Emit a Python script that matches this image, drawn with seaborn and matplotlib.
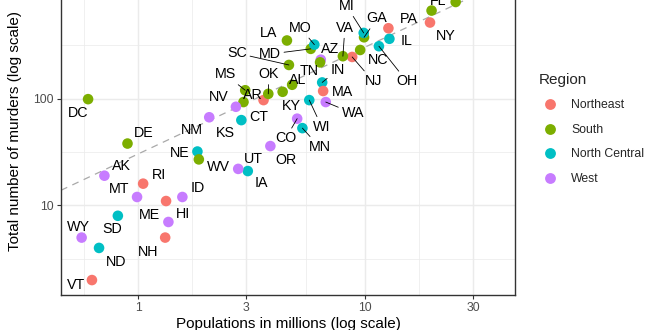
import numpy as np
import pandas as pd
import matplotlib
matplotlib.use("Agg")
import matplotlib.pyplot as plt
import seaborn as sns
from matplotlib.lines import Line2D
from matplotlib.ticker import NullFormatter

# ---------------- data (US gun murders, 2010) ----------------
abb = ["AL", "AK", "AZ", "AR", "CA", "CO", "CT", "DE", "DC", "FL", "GA", "HI", "ID",
       "IL", "IN", "IA", "KS", "KY", "LA", "ME", "MD", "MA", "MI", "MN", "MS", "MO",
       "MT", "NE", "NV", "NH", "NJ", "NM", "NY", "NC", "ND", "OH", "OK", "OR", "PA",
       "RI", "SC", "SD", "TN", "TX", "UT", "VT", "VA", "WA", "WV", "WI", "WY"]
region = ["South", "West", "West", "South", "West", "West", "Northeast", "South", "South",
          "South", "South", "West", "West", "North Central", "North Central",
          "North Central", "North Central", "South", "South", "Northeast", "South",
          "Northeast", "North Central", "North Central", "South", "North Central", "West",
          "North Central", "West", "Northeast", "Northeast", "West", "Northeast", "South",
          "North Central", "North Central", "South", "West", "Northeast", "Northeast",
          "South", "North Central", "South", "South", "West", "Northeast", "South", "West",
          "South", "North Central", "West"]
population = [4779736, 710231, 6392017, 2915918, 37253956, 5029196, 3574097, 897934,
              601723, 19687653, 9920000, 1360301, 1567582, 12830632, 6483802, 3046355,
              2853118, 4339367, 4533372, 1328361, 5773552, 6547629, 9883640, 5303925,
              2967297, 5988927, 989415, 1826341, 2700551, 1316470, 8791894, 2059179,
              19378102, 9535483, 672591, 11536504, 3751351, 3831074, 12702379, 1052567,
              4625364, 814180, 6346105, 25145561, 2763885, 625741, 8001024, 6724540,
              1852994, 5686986, 563626]
total = [135, 19, 232, 93, 1257, 65, 97, 38, 99, 669, 376, 7, 12, 364, 142, 21, 63, 116,
         351, 11, 293, 118, 413, 53, 120, 321, 12, 32, 84, 5, 246, 67, 517, 286, 4, 310,
         111, 36, 457, 16, 207, 8, 219, 805, 22, 2, 250, 93, 27, 97, 5]

region_order = ["Northeast", "South", "North Central", "West"]
x_breaks = [1, 3, 10, 30]
y_breaks = [10, 100, 1000]

# ---------------- layout / style (label placement as produced by ggrepel) ----------------
palette = ["#F8766D", "#7CAE00", "#00BFC4", "#C77CFF"]
# label offsets from their point, in pixels (right, down)
label_offset = {
    "AL": (6, -5.5), "AK": (17, -11), "AZ": (9, -12), "AR": (9.5, -8), "CA": (0, -14),
    "CO": (-11.5, 18.5), "CT": (-5, 15.6), "DE": (16.7, -11.5), "DC": (-10, 13),
    "FL": (7, -11), "GA": (13, -20), "HI": (15, -9), "ID": (15, -10), "IL": (17, 1),
    "IN": (15.4, -13.7), "IA": (14, 11), "KS": (-16, 12), "KY": (9, 13.4), "LA": (-18, -9),
    "ME": (-16.6, 13), "MD": (-41, 4), "MA": (19, 0), "MI": (-17, -28), "MN": (17, 17.5),
    "MS": (-20, -17), "MO": (-14, -18), "MT": (-17.5, -9.5), "NE": (-18, 0.5),
    "NV": (-17, -11), "NH": (-16.7, 13.3), "NJ": (21, 23), "NM": (-17.5, 11.5),
    "NY": (15.5, 12.3), "NC": (17.7, 9.3), "ND": (16.8, 13), "OH": (28, 34),
    "OK": (0.6, -20.7), "OR": (15.5, 13), "PA": (20.5, -10.4), "RI": (15.4, -10),
    "SC": (-52, -13), "SD": (-5.6, 12), "TN": (-10.5, 7), "TX": (5, -13), "UT": (15, -11),
    "VT": (-16, 4), "VA": (2, -29.4), "WA": (27, 10), "WV": (20, 6), "WI": (12.5, 25.6),
    "WY": (-2.7, -11.7),
}
with_segment = {"SC", "MS", "MO", "MD", "MI", "GA", "VA", "NJ", "OH", "IN", "OK", "WI",
                "WA", "CO", "MN"}

df = pd.DataFrame({"abb": abb, "region": region,
                   "population": population, "total": total})
df["pop_m"] = df["population"] / 1e6
r = df["total"].sum() / df["population"].sum() * 1e6  # national rate per million

sns.set_theme(style="white")
plt.rcParams["font.family"] = ["Liberation Sans", "DejaVu Sans"]

W, H = 660, 330
fig = plt.figure(figsize=(W / 100, H / 100), dpi=100)
fig.patch.set_facecolor("white")
ax = fig.add_axes([61 / W, 35 / H, 454 / W, 328.6 / H])

# limits with ggplot-like 5% expansion in log space
lx = np.log10(df["pop_m"])
ly = np.log10(df["total"])
ex = (lx.max() - lx.min()) * 0.05
ey = (ly.max() - ly.min()) * 0.05
xlim = (10 ** (lx.min() - ex), 10 ** (lx.max() + ex))
ylim = (10 ** (ly.min() - ey), 10 ** (ly.max() + ey))

# reference line: national average rate
xs = np.array(xlim)
line, = ax.plot(xs, r * xs, color="#A9A9A9", lw=0.9, zorder=1.5)
line.set_dashes((5.5, 4.5))

sns.scatterplot(data=df, x="pop_m", y="total", hue="region", hue_order=region_order,
                palette=palette, s=58, linewidth=0, legend=False, ax=ax, zorder=2.5)

ax.set_xscale("log")
ax.set_yscale("log")
ax.set_xlim(xlim)
ax.set_ylim(ylim)

for _, row in df.iterrows():
    dx, dy = label_offset[row["abb"]]
    kw = {}
    if row["abb"] in with_segment:
        kw["arrowprops"] = dict(arrowstyle="-", color="black", lw=0.6,
                                shrinkA=0, shrinkB=0)
    ax.annotate(row["abb"], xy=(row["pop_m"], row["total"]),
                xytext=(dx, -dy - 5.2), textcoords="offset pixels",
                ha="center", va="baseline", fontsize=10.3, color="black",
                zorder=4, annotation_clip=False, **kw)

# ticks / grid (theme_bw-like)
def minor_mids(br):
    lb = np.log10(br)
    d = lb[1] - lb[0]
    lb = np.concatenate([[lb[0] - d], lb, [lb[-1] + d]])
    return 10 ** ((lb[:-1] + lb[1:]) / 2)

ax.set_xticks(x_breaks)
ax.set_xticklabels([str(b) for b in x_breaks])
ax.set_yticks(y_breaks)
ax.set_yticklabels([str(b) for b in y_breaks])
ax.set_xticks(minor_mids(x_breaks), minor=True)
ax.set_yticks(minor_mids(y_breaks), minor=True)
ax.xaxis.set_minor_formatter(NullFormatter())
ax.yaxis.set_minor_formatter(NullFormatter())
ax.set_xlim(xlim)
ax.set_ylim(ylim)

ax.grid(which="major", color="#EBEBEB", lw=1.07, zorder=0)
ax.grid(which="minor", color="#EBEBEB", lw=0.53, zorder=0)
ax.set_axisbelow(True)
ax.tick_params(which="major", length=2.75, width=0.8, color="#333333",
               labelsize=8.8, labelcolor="#4D4D4D", pad=2.6, direction="out",
               bottom=True, left=True)
ax.tick_params(which="minor", length=0)
for s in ax.spines.values():
    s.set_color("#333333")
    s.set_linewidth(1.0)

ax.set_xlabel("Populations in millions (log scale)", fontsize=11, color="black")
ax.set_ylabel("Total number of murders (log scale)", fontsize=11, color="black")
ax.xaxis.set_label_coords(0.5, -0.066)
ax.yaxis.set_label_coords(-0.086, 0.5)

handles = [Line2D([], [], marker="o", ls="", ms=7.8, mfc=c, mec="none") for c in palette]
fig.legend(handles, region_order, title="Region", loc="upper left",
           bbox_to_anchor=(539 / W, 1 - 73 / H), frameon=False, fontsize=8.8,
           title_fontsize=11, alignment="left", handlelength=1.8,
           handletextpad=0.82, labelspacing=1.02, borderpad=0, borderaxespad=0)

fig.savefig("out.png", dpi=100)
